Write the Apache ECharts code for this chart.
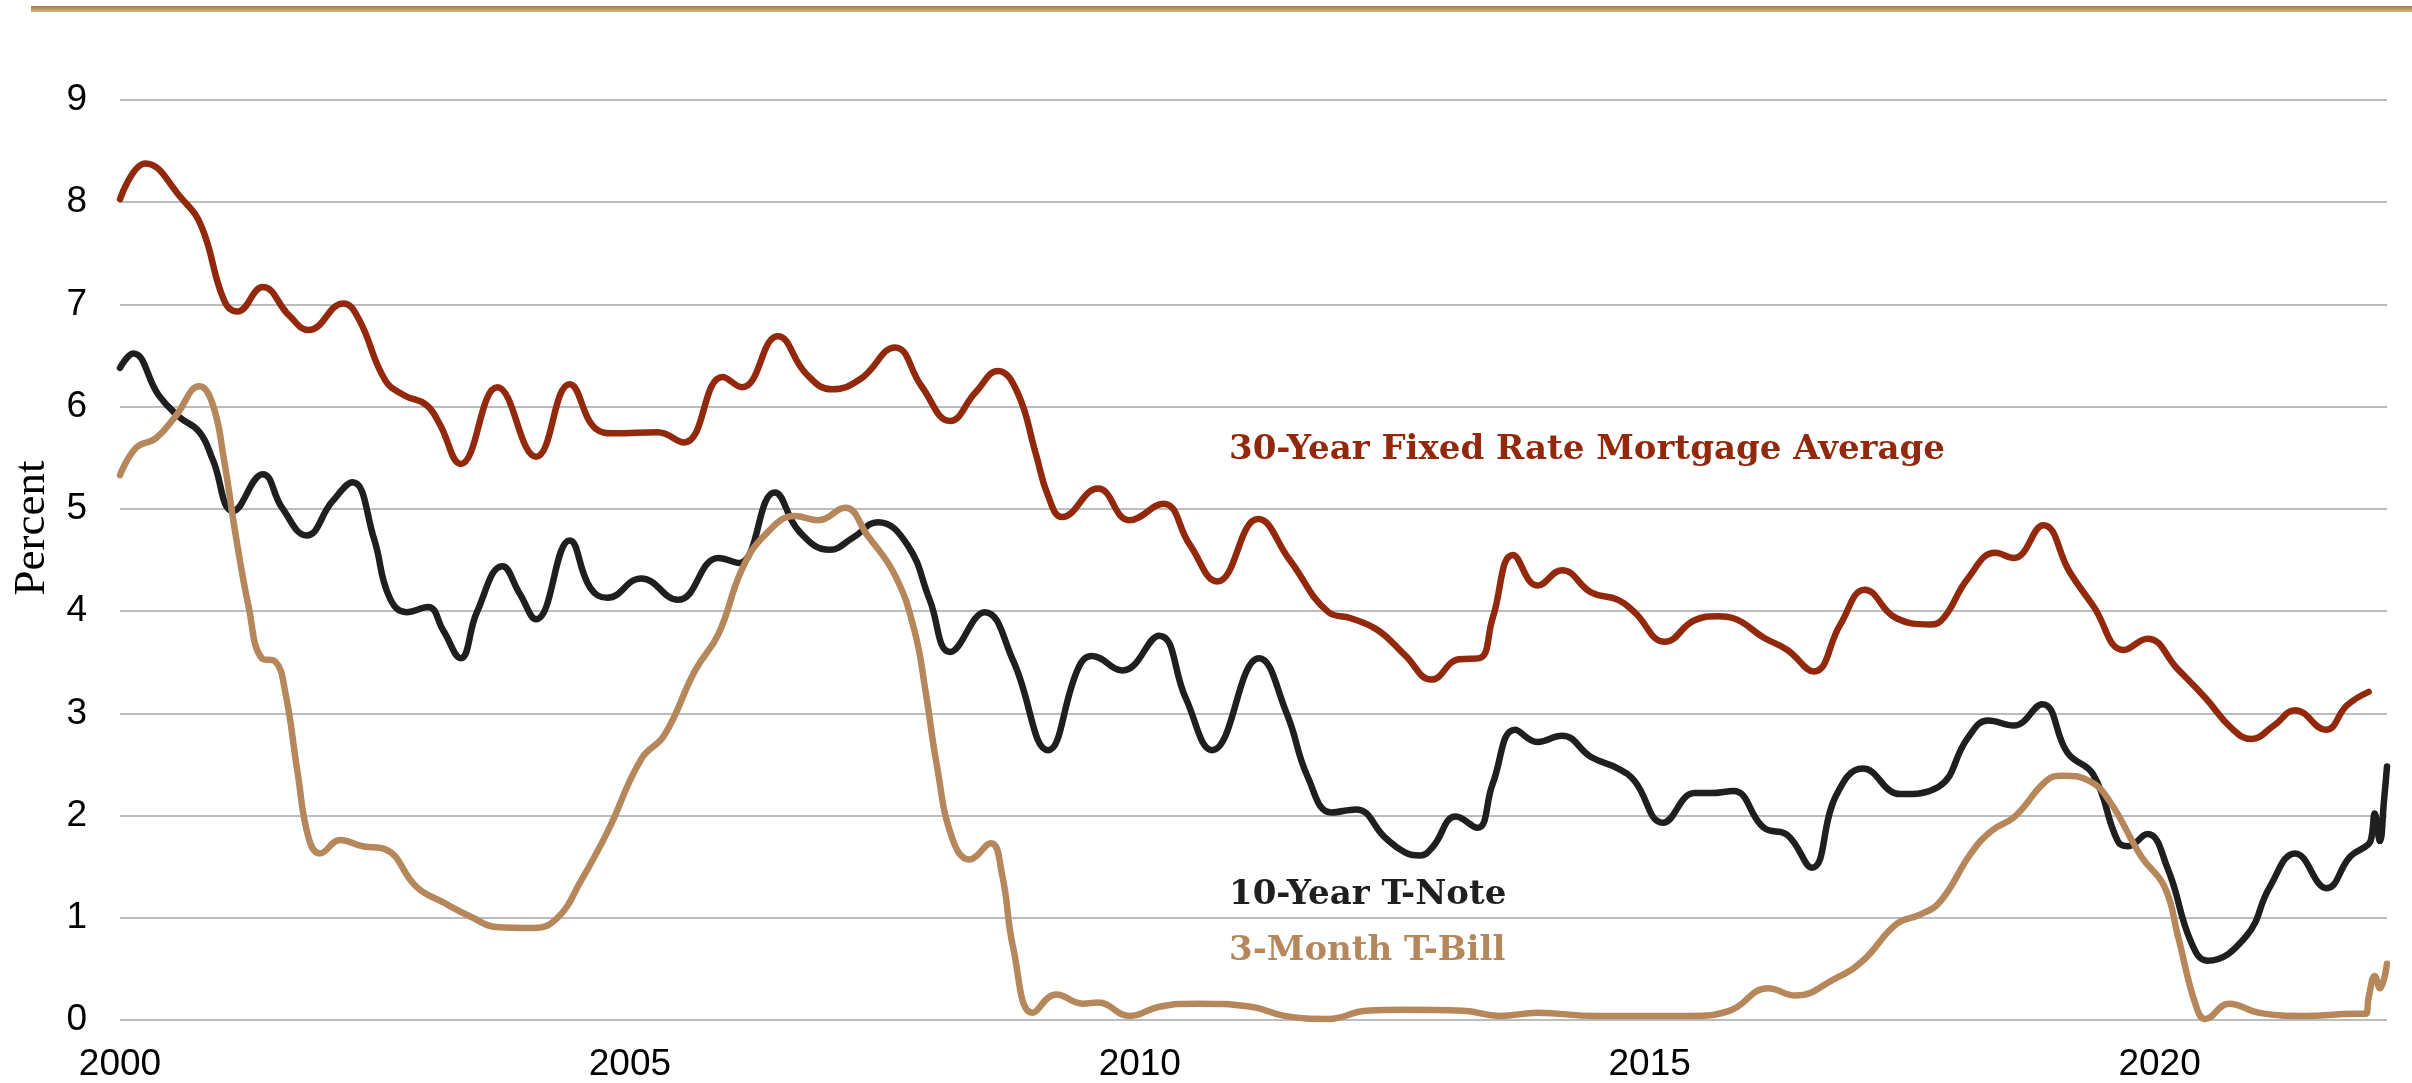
<!DOCTYPE html>
<html>
<head>
<meta charset="utf-8">
<script src="https://cdn.jsdelivr.net/npm/echarts@6/dist/echarts.min.js"></script>
<style>
  html, body { margin: 0; padding: 0; background: #fff; }
  #chart { width: 2412px; height: 1083px; }
</style>
</head>
<body>
<div id="chart"></div>
<script>
// valores: [año, porcentaje]
const mortgage30 = [
  [2000.0, 8.03], [2000.25, 8.38], [2000.61, 8.03], [2000.80, 7.76], [2001.02, 7.04], [2001.15, 6.93],
  [2001.40, 7.17], [2001.66, 6.89], [2001.85, 6.75], [2002.19, 7.01], [2002.34, 6.86], [2002.60, 6.26],
  [2002.79, 6.11], [2003.00, 6.02], [2003.13, 5.84], [2003.34, 5.44], [2003.70, 6.19], [2004.08, 5.51],
  [2004.41, 6.22], [2004.67, 5.78], [2004.85, 5.74], [2005.27, 5.75], [2005.53, 5.65], [2005.91, 6.29],
  [2006.10, 6.19], [2006.45, 6.69], [2006.73, 6.32], [2006.98, 6.17], [2007.26, 6.27], [2007.60, 6.58],
  [2007.86, 6.2], [2008.14, 5.86], [2008.39, 6.14], [2008.61, 6.35], [2008.80, 6.14], [2008.98, 5.54],
  [2009.10, 5.13], [2009.24, 4.92], [2009.59, 5.2], [2009.90, 4.89], [2010.23, 5.05], [2010.49, 4.65],
  [2010.76, 4.29], [2011.16, 4.9], [2011.47, 4.5], [2011.85, 3.99], [2012.07, 3.93], [2012.34, 3.81],
  [2012.60, 3.57], [2012.86, 3.33], [2013.13, 3.53], [2013.33, 3.54], [2013.46, 3.93], [2013.66, 4.55],
  [2013.90, 4.25], [2014.14, 4.4], [2014.43, 4.18], [2014.69, 4.11], [2014.85, 3.99], [2015.15, 3.7],
  [2015.44, 3.91], [2015.67, 3.95], [2015.82, 3.93], [2016.12, 3.74], [2016.35, 3.62], [2016.61, 3.41],
  [2016.87, 3.87], [2017.11, 4.21], [2017.42, 3.93], [2017.75, 3.87], [2017.88, 3.93], [2018.12, 4.32],
  [2018.39, 4.57], [2018.57, 4.52], [2018.86, 4.84], [2019.12, 4.38], [2019.35, 4.05], [2019.65, 3.62],
  [2019.88, 3.73], [2020.18, 3.43], [2020.45, 3.15], [2020.71, 2.85], [2020.90, 2.75], [2021.12, 2.88],
  [2021.33, 3.03], [2021.63, 2.84], [2021.84, 3.08], [2022.05, 3.21]
];
const note10 = [
  [2000.0, 6.38], [2000.13, 6.52], [2000.38, 6.11], [2000.58, 5.9], [2000.78, 5.75], [2000.91, 5.48],
  [2001.11, 4.98], [2001.40, 5.34], [2001.59, 5.01], [2001.83, 4.74], [2002.08, 5.07], [2002.28, 5.26],
  [2002.49, 4.71], [2002.64, 4.14], [2002.81, 3.99], [2003.02, 4.04], [2003.17, 3.81], [2003.34, 3.54],
  [2003.50, 3.99], [2003.75, 4.44], [2003.92, 4.17], [2004.08, 3.92], [2004.41, 4.69], [2004.61, 4.23],
  [2004.78, 4.13], [2005.11, 4.32], [2005.47, 4.11], [2005.87, 4.52], [2006.07, 4.47], [2006.42, 5.16],
  [2006.66, 4.78], [2006.96, 4.6], [2007.19, 4.72], [2007.43, 4.87], [2007.72, 4.65], [2007.94, 4.11],
  [2008.14, 3.6], [2008.48, 3.99], [2008.76, 3.51], [2009.10, 2.64], [2009.40, 3.45], [2009.53, 3.56],
  [2009.83, 3.42], [2010.19, 3.76], [2010.45, 3.15], [2010.71, 2.64], [2011.17, 3.54], [2011.44, 3.0],
  [2011.65, 2.37], [2011.88, 2.03], [2012.12, 2.06], [2012.41, 1.78], [2012.60, 1.64], [2012.75, 1.61],
  [2012.87, 1.69], [2013.10, 1.99], [2013.31, 1.88], [2013.46, 2.31], [2013.68, 2.84], [2013.90, 2.72],
  [2014.14, 2.78], [2014.43, 2.57], [2014.69, 2.46], [2014.85, 2.34], [2015.13, 1.93], [2015.44, 2.22],
  [2015.60, 2.22], [2015.82, 2.24], [2016.12, 1.88], [2016.35, 1.81], [2016.59, 1.49], [2016.83, 2.2],
  [2017.09, 2.46], [2017.46, 2.21], [2017.83, 2.28], [2018.12, 2.76], [2018.32, 2.93], [2018.57, 2.88],
  [2018.85, 3.09], [2019.10, 2.61], [2019.35, 2.4], [2019.59, 1.75], [2019.69, 1.7], [2019.88, 1.82],
  [2020.08, 1.48], [2020.31, 0.76], [2020.47, 0.58], [2020.85, 0.82], [2021.08, 1.3], [2021.33, 1.63],
  [2021.64, 1.29], [2021.87, 1.6], [2022.05, 1.72], [2022.08, 1.8], [2022.11, 2.02], [2022.16, 1.75],
  [2022.20, 2.14], [2022.23, 2.48]
];
const bill3 = [
  [2000.0, 5.33], [2000.16, 5.6], [2000.35, 5.69], [2000.54, 5.9], [2000.78, 6.2], [2000.91, 6.02],
  [2001.02, 5.48], [2001.13, 4.77], [2001.26, 4.05], [2001.39, 3.54], [2001.52, 3.51], [2001.62, 3.21],
  [2001.74, 2.43], [2001.85, 1.78], [2001.96, 1.63], [2002.16, 1.76], [2002.38, 1.7], [2002.60, 1.67],
  [2002.91, 1.3], [2003.17, 1.15], [2003.46, 1.0], [2003.69, 0.91], [2004.06, 0.9], [2004.29, 1.0],
  [2004.52, 1.36], [2004.78, 1.84], [2005.11, 2.55], [2005.34, 2.79], [2005.64, 3.42], [2005.87, 3.78],
  [2006.10, 4.41], [2006.32, 4.74], [2006.62, 4.93], [2006.85, 4.89], [2007.11, 5.01], [2007.33, 4.74],
  [2007.60, 4.35], [2007.79, 3.81], [2007.90, 3.21], [2008.01, 2.49], [2008.16, 1.78], [2008.33, 1.57],
  [2008.54, 1.73], [2008.65, 1.42], [2008.76, 0.7], [2008.95, 0.07], [2009.18, 0.25], [2009.44, 0.16],
  [2009.59, 0.17], [2009.90, 0.04], [2010.19, 0.13], [2010.56, 0.16], [2011.09, 0.13], [2011.42, 0.04],
  [2011.85, 0.01], [2012.22, 0.09], [2012.60, 0.1], [2013.17, 0.09], [2013.53, 0.04], [2013.90, 0.07],
  [2014.47, 0.04], [2015.40, 0.04], [2015.78, 0.09], [2016.16, 0.31], [2016.43, 0.24], [2016.81, 0.4],
  [2017.09, 0.58], [2017.42, 0.94], [2017.65, 1.03], [2017.85, 1.16], [2018.15, 1.63], [2018.35, 1.85],
  [2018.58, 1.99], [2018.89, 2.34], [2019.05, 2.39], [2019.31, 2.34], [2019.51, 2.14], [2019.82, 1.6],
  [2020.05, 1.3], [2020.18, 0.82], [2020.35, 0.16], [2020.45, 0.01], [2020.68, 0.16], [2020.98, 0.07],
  [2021.42, 0.04], [2021.91, 0.06], [2022.02, 0.06], [2022.05, 0.22], [2022.11, 0.43], [2022.16, 0.31],
  [2022.23, 0.55]
];
const seriesNames = ['30-Year Fixed Rate Mortgage Average', '10-Year T-Note', '3-Month T-Bill'];
const seriesColors = ['#93290c', '#1f1f1f', '#b5875a'];

const chart = echarts.init(document.getElementById('chart'), null, { renderer: 'canvas' });

function linea(name, data, color) {
  return {
    name: name,
    type: 'line',
    data: data,
    smooth: 0.45,
    showSymbol: false,
    animation: false,
    lineStyle: { color: color, width: 6.5, cap: 'round', join: 'round' },
    itemStyle: { color: color }
  };
}

function etiqueta(i, y) {
  return {
    type: 'text',
    x: 1229, y: y,
    style: {
      text: seriesNames[i],
      fontFamily: 'DejaVu Serif',
      fontWeight: 'bold',
      fontSize: 34,
      fill: seriesColors[i],
      textVerticalAlign: 'middle'
    }
  };
}

chart.setOption({
  backgroundColor: '#fff',
  animation: false,
  grid: { left: 120, right: 25, top: 100, bottom: 62 },
  xAxis: {
    type: 'value',
    min: 2000,
    max: 2022.23,
    interval: 5,
    axisLine: { show: false },
    axisTick: { show: false },
    splitLine: { show: false },
    axisLabel: {
      margin: 26,
      fontFamily: 'Liberation Sans',
      fontSize: 37,
      color: '#000',
      showMaxLabel: false,
      formatter: v => (v % 5 === 0 ? String(v) : '')
    }
  },
  yAxis: {
    type: 'value',
    min: 0,
    max: 9,
    interval: 1,
    axisLine: { show: false },
    axisTick: { show: false },
    splitLine: { lineStyle: { color: '#a6a6a6', width: 1.5 } },
    axisLabel: {
      margin: 33,
      fontFamily: 'Liberation Sans',
      fontSize: 37,
      color: '#000'
    }
  },
  graphic: [
    {
      type: 'rect',
      shape: { x: 31, y: 6, width: 2381, height: 6 },
      style: {
        fill: new echarts.graphic.LinearGradient(0, 0, 0, 1, [
          { offset: 0, color: '#a37a48' },
          { offset: 1, color: '#d2b482' }
        ])
      }
    },
    {
      type: 'text',
      x: 32, y: 528,
      rotation: Math.PI / 2,
      style: {
        text: 'Percent',
        fontFamily: 'Liberation Serif',
        fontSize: 45,
        fill: '#000',
        textAlign: 'center',
        textVerticalAlign: 'middle'
      }
    },
    etiqueta(0, 450),
    etiqueta(1, 895),
    etiqueta(2, 951)
  ],
  series: [
    linea(seriesNames[0], mortgage30, seriesColors[0]),
    linea(seriesNames[1], note10, seriesColors[1]),
    linea(seriesNames[2], bill3, seriesColors[2])
  ]
});
</script>
</body>
</html>
